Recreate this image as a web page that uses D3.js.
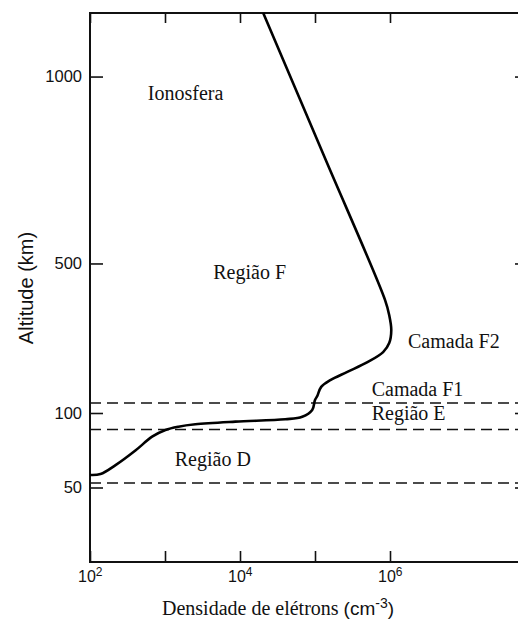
<!DOCTYPE html>
<html>
<head>
<meta charset="utf-8">
<script src="https://cdn.jsdelivr.net/npm/d3@7"></script>
<style>
  body { margin: 0; background: #fff; }
  .serif { font-family: "Liberation Serif", "Times New Roman", serif; fill: #111; }
  .sans { font-family: "Liberation Sans", Arial, sans-serif; fill: #111; }
</style>
</head>
<body>
<svg class="chart" width="518" height="624"></svg>
<script>
// electron density profile (cm^-3) vs altitude (km)
var density = [100, 138, 219, 407, 673, 1014, 1510, 2540, 8670, 40200, 67600, 91800,
               100000, 107000, 121000, 160000, 270000, 500000, 810000, 976000,
               1040000, 976000, 860000, 133000, 20400];
var altitude = [58.4, 59, 65, 75, 84.1, 88.6, 90.8, 92.4, 94.2, 95.8, 97.5, 108,
                135, 145, 170, 188, 210, 236, 263, 287,
                322, 362, 402, 786, 1170];

// dashed layer limits (km)
var layerLines = [127, 89, 53];

var yTicks = [50, 100, 500, 1000];
var xTicks = [1e2, 1e3, 1e4, 1e5, 1e6];
var xLabels = ["2", "", "4", "", "6"]; // exponents

var labels = ["Ionosfera", "Região F", "Camada F2", "Camada F1", "Região E", "Região D"];
var labelX = [590, 4400, 1.74e6, 5.7e5, 5.7e5, 1350];
var labelAlt = [937, 458, 274, 145, 95.3, 64.4];

var margin = {top: 13, right: -10, bottom: 62, left: 90};
var width = 438;
var height = 624 - margin.top - margin.bottom;

var x = d3.scaleLog()
    .domain([1e2, 1e8])
    .range([0, 450]);

// axis is stretched below 100 km
var y = d3.scaleLinear()
    .domain([0, 100, 1170])
    .range([height, height - 149, 0]);

var chart = d3.select('.chart');
var main = chart.append('g')
    .attr('transform', 'translate(' + margin.left + ',' + margin.top + ')');

// dashed lines
main.selectAll('.layer')
    .data(layerLines)
    .enter().append('line')
    .attr('x1', 0)
    .attr('x2', width)
    .attr('y1', function(d) { return y(d); })
    .attr('y2', function(d) { return y(d); })
    .style('stroke', '#111')
    .style('stroke-width', '1.5px')
    .style('stroke-dasharray', '11,6');

// axes, ticks pointing inward
var bottomAxis = d3.axisBottom(x).tickValues(xTicks).tickSizeInner(-11).tickSizeOuter(0).tickFormat('');
var topAxis = d3.axisTop(x).tickValues(xTicks).tickSizeInner(-10).tickSizeOuter(0).tickFormat('');
var leftAxis = d3.axisLeft(y).tickValues(yTicks).tickSizeInner(-13).tickSizeOuter(0)
    .tickPadding(8).tickFormat(d3.format('d'));
var rightAxis = d3.axisRight(y).tickValues(yTicks).tickSizeInner(-13).tickSizeOuter(0).tickFormat('');

function styleAxis(g) {
    g.select('.domain').remove();
    g.selectAll('line').style('stroke', '#111').style('stroke-width', '1.6px');
}

main.append('g').attr('transform', 'translate(0,' + height + ')').call(bottomAxis).call(styleAxis);
main.append('g').call(topAxis).call(styleAxis);
main.append('g').call(leftAxis).call(styleAxis)
    .selectAll('text')
    .attr('class', 'sans')
    .style('font-size', '16.5px')
    .style('font-family', '"Liberation Sans", Arial, sans-serif');
main.append('g').attr('transform', 'translate(' + width + ',0)').call(rightAxis).call(styleAxis);

// frame
main.append('rect')
    .attr('width', width)
    .attr('height', height)
    .style('fill', 'none')
    .style('stroke', '#111')
    .style('stroke-width', '2px');

// x tick labels 10^n
var xl = main.selectAll('.xlab')
    .data(xTicks.filter(function(d, i) { return xLabels[i] != ""; }))
    .enter().append('text')
    .attr('class', 'sans')
    .attr('x', function(d) { return x(d) - 12; })
    .attr('y', height + 20)
    .style('font-size', '16px');
xl.append('tspan').text('10');
xl.append('tspan')
    .attr('dy', '-6')
    .style('font-size', '12px')
    .text(function(d) { return Math.round(Math.log10(d)); });

// curve
var line = d3.line()
    .x(function(d) { return x(d[0]); })
    .y(function(d) { return y(d[1]); })
    .curve(d3.curveCatmullRom.alpha(0.5));

main.append('path')
    .datum(density.map(function(d, i) { return [d, altitude[i]]; }))
    .attr('d', line)
    .style('fill', 'none')
    .style('stroke', '#000')
    .style('stroke-width', '2.6px');

// region labels
main.selectAll('.lab')
    .data(labels)
    .enter().append('text')
    .attr('class', 'serif')
    .attr('x', function(d, i) { return x(labelX[i]); })
    .attr('y', function(d, i) { return y(labelAlt[i]); })
    .style('font-size', '20px')
    .text(function(d) { return d; });

// axis titles
var xt = chart.append('text')
    .attr('x', 162)
    .attr('y', 615)
    .style('font-size', '20px');
xt.append('tspan').attr('class', 'serif').text('Densidade de elétrons ');
xt.append('tspan').attr('class', 'sans').style('font-size', '19px').text('(cm');
xt.append('tspan').attr('class', 'sans').attr('dy', '-7').style('font-size', '14px').text('-3');
xt.append('tspan').attr('class', 'sans').attr('dy', '7').style('font-size', '19px').text(')');

chart.append('text')
    .attr('class', 'sans')
    .attr('transform', 'translate(33,288) rotate(-90)')
    .attr('text-anchor', 'middle')
    .style('font-size', '20px')
    .text('Altitude (km)');
</script>
</body>
</html>
